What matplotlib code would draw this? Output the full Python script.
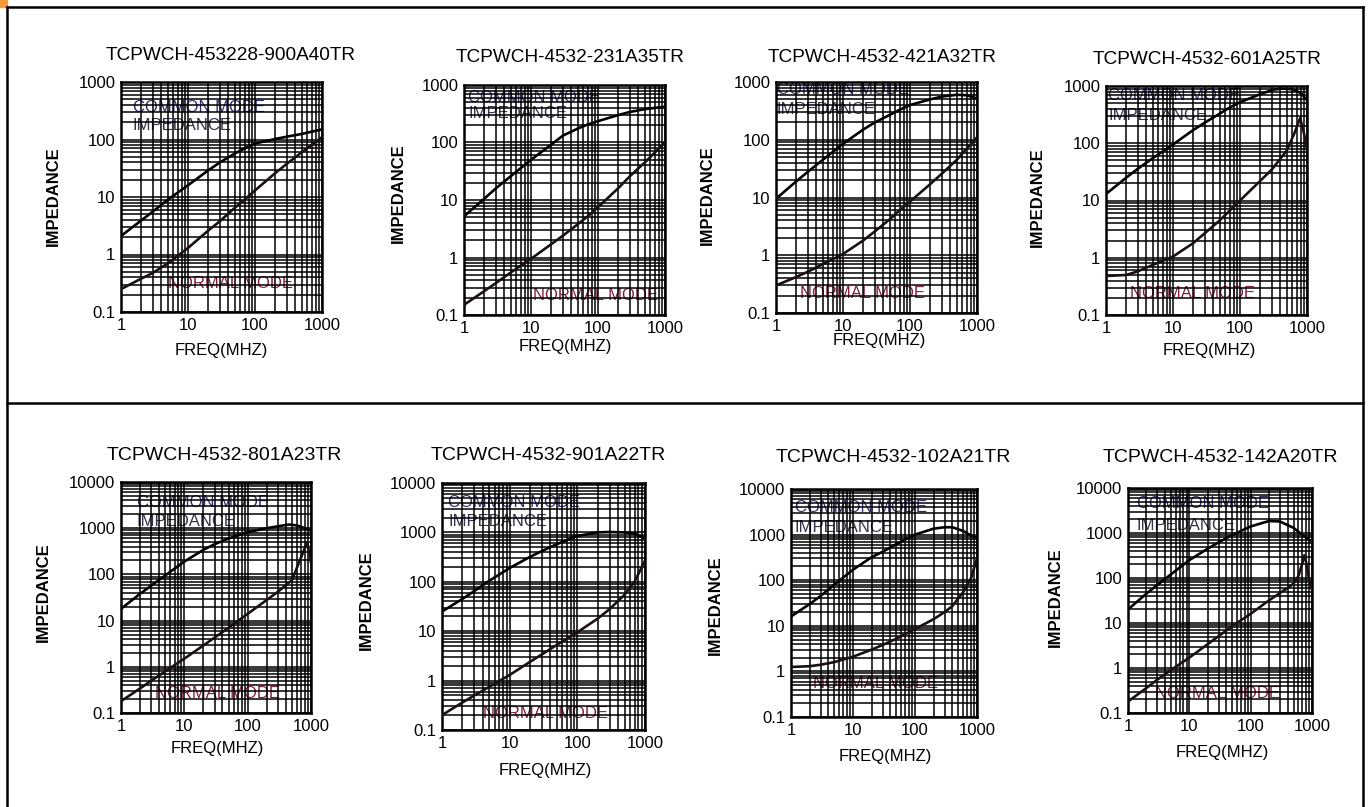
import matplotlib
matplotlib.use("Agg")
import matplotlib.pyplot as plt
from matplotlib.ticker import FixedLocator, LogLocator, NullFormatter, FixedFormatter
from matplotlib.patches import Rectangle
from matplotlib.lines import Line2D

W, H = 1370, 807

# ---- data (freq in MHz, impedance in ohm) ----
TITLES = ["TCPWCH-453228-900A40TR", "TCPWCH-4532-231A35TR",
          "TCPWCH-4532-421A32TR", "TCPWCH-4532-601A25TR",
          "TCPWCH-4532-801A23TR", "TCPWCH-4532-901A22TR",
          "TCPWCH-4532-102A21TR", "TCPWCH-4532-142A20TR"]

F_STD = [1, 2, 3, 5, 10, 20, 30, 50, 70, 100, 200, 300, 500, 1000]

CM_900 = [2.1, 3.9, 5.6, 9, 16, 29, 40, 57, 70, 85, 102, 112, 125, 150]
NM_900 = [0.25, 0.38, 0.48, 0.7, 1.3, 2.6, 3.8, 6.5, 9, 13, 26, 38, 60, 110]

CM_231 = [5.2, 10.5, 16, 26, 50, 92, 132, 175, 205, 235, 300, 340, 380, 420]
NM_231 = [0.15, 0.26, 0.36, 0.55, 0.95, 1.7, 2.4, 3.8, 5.2, 7.5, 16, 26, 45, 100]

F_421 = [1, 2, 3, 5, 10, 20, 30, 50, 70, 100, 200, 300, 500, 700, 1000]
CM_421 = [9.5, 19, 28, 45, 85, 150, 200, 270, 330, 400, 500, 560, 600, 590, 520]
NM_421 = [0.3, 0.42, 0.52, 0.7, 1.05, 1.8, 2.6, 4.2, 6, 8.5, 17, 26, 45, 70, 110]

F_601_CM = [1, 2, 3, 5, 10, 20, 30, 50, 70, 100, 200, 300, 400, 600, 800, 1000]
CM_601 = [13, 25, 36, 55, 95, 170, 230, 330, 420, 520, 720, 850, 900, 880, 760, 570]
F_601_NM = [1, 2, 3, 5, 10, 20, 50, 100, 200, 300, 500, 650, 790, 900, 1000]
NM_601 = [0.48, 0.5, 0.58, 0.75, 1.05, 1.8, 4.5, 10, 22, 35, 75, 150, 275, 150, 76]

F_801_CM = [1, 2, 3, 5, 10, 20, 30, 50, 100, 200, 300, 450, 600, 800, 1000]
CM_801 = [18, 38, 57, 95, 190, 340, 450, 600, 820, 1000, 1100, 1200, 1150, 1000, 880]
F_801_NM = [1, 2, 3, 5, 10, 20, 50, 100, 200, 300, 500, 600, 750, 870, 1000]
NM_801 = [0.18, 0.34, 0.5, 0.8, 1.5, 2.9, 7, 14, 28, 42, 75, 140, 300, 500, 180]

F_901 = [1, 2, 3, 5, 10, 20, 30, 50, 100, 200, 300, 500, 700, 1000]
CM_901 = [25, 45, 65, 105, 190, 320, 420, 580, 850, 1000, 1020, 1000, 950, 750]
NM_901 = [0.2, 0.36, 0.5, 0.75, 1.3, 2.4, 3.4, 5.3, 9.5, 18, 28, 55, 100, 270]

F_102 = [1, 2, 3, 5, 10, 20, 30, 50, 100, 200, 300, 400, 600, 800, 1000]
CM_102 = [16, 30, 45, 80, 170, 320, 420, 620, 1000, 1350, 1450, 1450, 1200, 950, 850]
NM_102 = [1.25, 1.3, 1.4, 1.6, 2.1, 3, 3.8, 5.2, 8.5, 14, 20, 27, 55, 110, 300]

F_142_CM = [1, 2, 3, 5, 10, 20, 30, 50, 100, 200, 300, 500, 700, 1000]
CM_142 = [20, 45, 70, 120, 250, 450, 620, 900, 1400, 1850, 1800, 1300, 900, 640]
F_142_NM = [1, 2, 3, 5, 10, 20, 50, 100, 200, 400, 500, 600, 700, 750, 800, 900, 1000]
NM_142 = [0.18, 0.36, 0.55, 0.9, 1.7, 3.4, 8.5, 16, 32, 60, 75, 110, 220, 320, 230, 90, 55]

CURVES = [
    (F_STD, CM_900, F_STD, NM_900),
    (F_STD, CM_231, F_STD, NM_231),
    (F_421, CM_421, F_421, NM_421),
    (F_601_CM, CM_601, F_601_NM, NM_601),
    (F_801_CM, CM_801, F_801_NM, NM_801),
    (F_901, CM_901, F_901, NM_901),
    (F_102, CM_102, F_102, NM_102),
    (F_142_CM, CM_142, F_142_NM, NM_142),
]

X_TICKS = [1, 10, 100, 1000]
X_TICKLABELS = ["1", "10", "100", "1000"]
Y_TICKS_TOP = [0.1, 1, 10, 100, 1000]
Y_TICKLABELS_TOP = ["0.1", "1", "10", "100", "1000"]
Y_TICKS_BOT = [0.1, 1, 10, 100, 1000, 10000]
Y_TICKLABELS_BOT = ["0.1", "1", "10", "100", "1000", "10000"]

# ---- layout, in pixels of the 1370x807 picture ----
AX_BOX = [(121, 82, 322, 312), (464, 85, 665, 315), (776, 82, 977, 313),
          (1106, 86, 1307, 315), (121, 482, 311, 713), (442, 483, 645, 730),
          (791, 489, 977, 717), (1128, 488, 1312, 713)]
TITLE_XY = [(231, 55), (570, 57), (882, 57), (1207, 60),
            (224, 455), (548, 455), (893, 457), (1220, 458)]
YLABEL_XY = [(53, 196), (398, 193), (707, 195), (1037, 197),
             (43, 592), (366, 600), (715, 605), (1055, 597)]
XLABEL_XY = [(221, 350), (565, 347), (879, 341), (1209, 350),
             (217, 748), (545, 770), (885, 757), (1222, 753)]
CM_TXT = [(133, 107, 125), (468, 97, 114), (777, 90, 110), (1108, 95, 115),
          (137, 502, 522), (448, 502, 521), (795, 507, 527), (1137, 503, 525)]
NM_TXT = [(168, 283), (533, 295), (800, 293), (1130, 293),
          (155, 693), (483, 713), (813, 683), (1155, 693)]

FONT = "Liberation Sans"
CM_COLOR = "#2e2e6a"
NM_COLOR = "#80203c"


def fx(x):
    return x / W


def fy(y):
    return 1 - y / H


fig = plt.figure(figsize=(W / 100, H / 100), dpi=100)
fig.patch.set_facecolor("white")

for i, (box, (fc, cm, fn, nm)) in enumerate(zip(AX_BOX, CURVES)):
    l, t, r, b = box
    ax = fig.add_axes([fx(l), fy(b), (r - l) / W, (b - t) / H])
    ax.set_xscale("log")
    ax.set_yscale("log")
    ax.set_xlim(1, 1000)
    top_row = i < 4
    ax.set_ylim(0.1, 1000 if top_row else 10000)

    ax.xaxis.set_major_locator(FixedLocator(X_TICKS))
    ax.xaxis.set_major_formatter(FixedFormatter(X_TICKLABELS))
    yt = Y_TICKS_TOP if top_row else Y_TICKS_BOT
    ytl = Y_TICKLABELS_TOP if top_row else Y_TICKLABELS_BOT
    ax.yaxis.set_major_locator(FixedLocator(yt))
    ax.yaxis.set_major_formatter(FixedFormatter(ytl))
    for axis in (ax.xaxis, ax.yaxis):
        axis.set_minor_locator(LogLocator(base=10, subs=range(2, 10), numticks=20))
        axis.set_minor_formatter(NullFormatter())

    ax.tick_params(which="both", length=0, pad=4, labelsize=12)
    for lab in ax.get_xticklabels() + ax.get_yticklabels():
        lab.set_fontfamily(FONT)

    ax.set_axisbelow(False)
    ax.grid(which="both", color="black", lw=1.1)
    for sp in ax.spines.values():
        sp.set_linewidth(1.8)

    ax.plot(fc, cm, color="black", lw=1.9, zorder=3)
    ax.plot(fn, nm, color="#1a1014", lw=1.9, zorder=3)

    # in-plot captions sit under the grid like in the scan
    cx, cy, iy = CM_TXT[i]
    ax.text(fx(cx), fy(cy), "COMMON MODE", transform=fig.transFigure,
            fontsize=12, family=FONT, color=CM_COLOR, ha="left", va="center", zorder=1)
    ax.text(fx(cx), fy(iy), "IMPEDANCE", transform=fig.transFigure,
            fontsize=12, family=FONT, color="#33334a", ha="left", va="center", zorder=1)
    nx, ny = NM_TXT[i]
    ax.text(fx(nx), fy(ny), "NORMAL MODE", transform=fig.transFigure,
            fontsize=12, family=FONT, color=NM_COLOR, ha="left", va="center", zorder=1)

    tx, ty = TITLE_XY[i]
    fig.text(fx(tx), fy(ty), TITLES[i], fontsize=13.7 if top_row else 14,
             family=FONT, ha="center", va="center")
    lx, ly = YLABEL_XY[i]
    fig.text(fx(lx), fy(ly), "IMPEDANCE", fontsize=12, family=FONT,
             fontweight="bold", rotation=90, ha="center", va="center")
    xx, xy = XLABEL_XY[i]
    fig.text(fx(xx), fy(xy), "FREQ(MHZ)", fontsize=12, family=FONT,
             ha="center", va="center")

# outer frames of the two rows
frame = dict(color="black", lw=1.8, transform=fig.transFigure)
fig.add_artist(Line2D([fx(7), fx(1363)], [fy(7), fy(7)], **frame))
fig.add_artist(Line2D([fx(7), fx(1363)], [fy(403), fy(403)], **frame))
fig.add_artist(Line2D([fx(7), fx(7)], [fy(7), fy(807)], **frame))
fig.add_artist(Line2D([fx(1363), fx(1363)], [fy(7), fy(807)], **frame))
fig.add_artist(Rectangle((0, fy(7)), fx(7), 7 / H, color="#f29a3a",
                         transform=fig.transFigure))

fig.savefig("out.png", dpi=100)
